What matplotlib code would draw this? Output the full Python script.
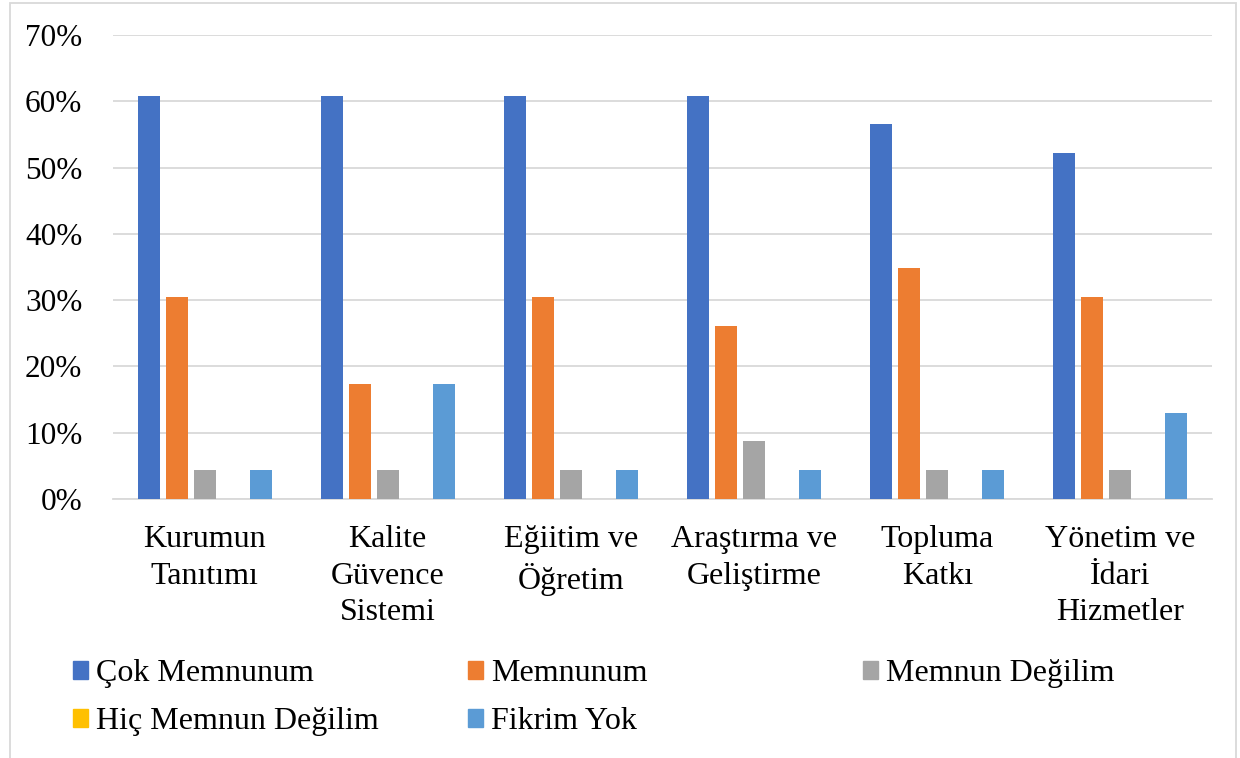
import matplotlib.pyplot as plt
import numpy as np
from matplotlib.patches import Patch, Rectangle
from matplotlib.ticker import PercentFormatter

categories = [
    "Kurumun\nTanıtımı",
    "Kalite\nGüvence\nSistemi",
    "Eğiitim ve\nÖğretim",
    "Araştırma ve\nGeliştirme",
    "Topluma\nKatkı",
    "Yönetim ve\nİdari\nHizmetler",
]
series_names = ["Çok Memnunum", "Memnunum", "Memnun Değilim", "Hiç Memnun Değilim", "Fikrim Yok"]
cok_memnunum = [0.6087, 0.6087, 0.6087, 0.6087, 0.5652, 0.5217]
memnunum = [0.3043, 0.1739, 0.3043, 0.2609, 0.3478, 0.3043]
memnun_degilim = [0.0435, 0.0435, 0.0435, 0.0870, 0.0435, 0.0435]
hic_memnun_degilim = [0.0, 0.0, 0.0, 0.0, 0.0, 0.0]
fikrim_yok = [0.0435, 0.1739, 0.0435, 0.0435, 0.0435, 0.1304]
colors = ["#4472C4", "#ED7D31", "#A5A5A5", "#FFC000", "#5B9BD5"]

plt.rcParams["font.family"] = ["Liberation Serif", "DejaVu Serif"]
FS = 23

W, H = 1240, 758
fig = plt.figure(figsize=(W / 100, H / 100), dpi=100)
ax = fig.add_axes([113 / W, 1 - 499 / H, (1212 - 113) / W, (499 - 35) / H])

values = [cok_memnunum, memnunum, memnun_degilim, hic_memnun_degilim, fikrim_yok]
x = np.arange(len(categories))
step = 0.153
width = 0.12
for i, (vals, color) in enumerate(zip(values, colors)):
    ax.bar(x + (i - 2) * step, vals, width, color=color, zorder=3)

ax.set_xlim(-0.5, len(categories) - 0.5)
ax.set_ylim(0, 0.7)
ax.set_yticks(np.arange(0, 0.71, 0.1))
ax.yaxis.set_major_formatter(PercentFormatter(1.0, decimals=0))
ax.set_xticks(x)
ax.set_xticklabels(categories, fontsize=FS, linespacing=1.33)
ax.tick_params(axis="y", labelsize=22.5, length=0, pad=22)
ax.tick_params(axis="x", length=0, pad=19)
ax.grid(axis="y", color="#D9D9D9", linewidth=1.3, zorder=0)
for side in ["top", "right", "left"]:
    ax.spines[side].set_visible(False)
ax.spines["bottom"].set_color("#D9D9D9")
ax.spines["bottom"].set_linewidth(1.3)

# legend laid out row by row, like the original
handles = [Patch(color=c) for c in colors]
columns = [[0, 3], [1, 4], [2]]
col_x = [73, 468, 863]
for col, cx in zip(columns, col_x):
    fig.legend(
        [handles[k] for k in col],
        [series_names[k] for k in col],
        loc="upper left",
        bbox_to_anchor=(cx / W, 1 - 659 / H),
        frameon=False,
        fontsize=FS,
        handlelength=0.48,
        handleheight=0.48,
        handletextpad=0.25,
        labelspacing=0.6,
        borderpad=0,
        borderaxespad=0,
    )

fig.patches.append(
    Rectangle((10 / W, -0.05), (1236 - 10) / W, 1.05 - 3 / H,
              transform=fig.transFigure, fill=False, edgecolor="#D9D9D9", linewidth=1.3)
)

fig.savefig("out.png", dpi=100)
